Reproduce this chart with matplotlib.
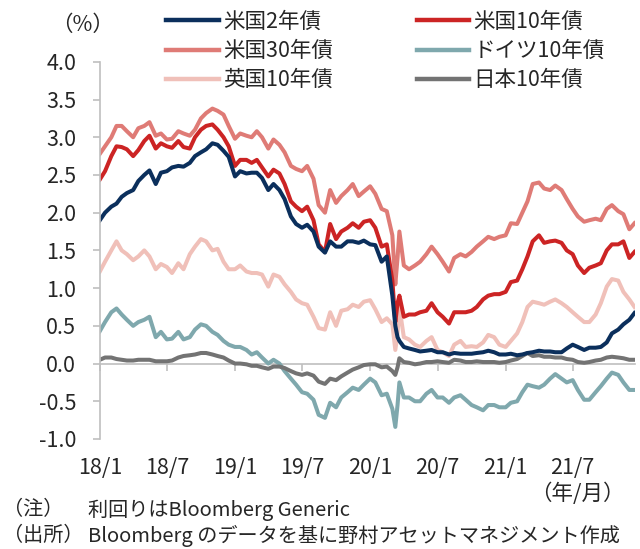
import pandas as pd
import matplotlib
matplotlib.use("Agg")
import matplotlib.pyplot as plt

plt.rcParams['font.family'] = ['Noto Sans CJK JP', 'DejaVu Sans']

# semi-monthly sample dates, plus two extra points around the March 2020 turmoil
dates = pd.to_datetime(sorted(
    list(pd.date_range('2018-01-01', '2021-12-15', freq='SMS').strftime('%Y-%m-%d'))
    + ['2020-03-09', '2020-03-20']))

us2 = [1.90, 2.00, 2.08, 2.12, 2.21, 2.26, 2.30, 2.42, 2.50, 2.56, 2.38, 2.53,
       2.55, 2.60, 2.62, 2.61, 2.66, 2.75, 2.80, 2.84, 2.92, 2.90, 2.82, 2.74,
       2.48, 2.55, 2.52, 2.53, 2.53, 2.46, 2.30, 2.38, 2.30, 2.18, 1.95, 1.85,
       1.80, 1.84, 1.75, 1.55, 1.47, 1.62, 1.55, 1.55, 1.62, 1.62, 1.60, 1.63,
       1.58, 1.57, 1.35, 1.42, 0.90, 0.50, 0.35, 0.30, 0.22, 0.20, 0.18, 0.16, 0.17,
       0.18, 0.15, 0.15, 0.12, 0.14, 0.13, 0.13, 0.13, 0.14, 0.15, 0.17, 0.15, 0.12,
       0.12, 0.13, 0.11, 0.12, 0.14, 0.15, 0.17, 0.16, 0.16, 0.15, 0.15, 0.20,
       0.25, 0.22, 0.18, 0.21, 0.21, 0.22, 0.28, 0.40, 0.45, 0.52, 0.58, 0.67]

us10 = [2.44, 2.55, 2.75, 2.88, 2.87, 2.84, 2.75, 2.83, 2.95, 3.02, 2.85, 2.92,
        2.88, 2.86, 2.95, 2.87, 2.85, 3.00, 3.10, 3.15, 3.17, 3.10, 3.00, 2.88,
        2.62, 2.70, 2.70, 2.66, 2.70, 2.60, 2.48, 2.57, 2.52, 2.38, 2.15, 2.08,
        2.02, 2.08, 1.90, 1.58, 1.48, 1.85, 1.65, 1.75, 1.80, 1.86, 1.80, 1.88,
        1.90, 1.80, 1.55, 1.58, 1.10, 0.55, 0.80, 0.90, 0.62, 0.65, 0.65, 0.68, 0.70,
        0.80, 0.68, 0.62, 0.53, 0.68, 0.68, 0.68, 0.70, 0.75, 0.85, 0.90, 0.92, 0.92,
        0.95, 1.08, 1.10, 1.25, 1.42, 1.62, 1.70, 1.60, 1.62, 1.63, 1.60, 1.50,
        1.45, 1.30, 1.20, 1.27, 1.30, 1.33, 1.50, 1.58, 1.58, 1.62, 1.40, 1.48]

us30 = [2.78, 2.88, 3.00, 3.15, 3.15, 3.08, 3.00, 3.12, 3.15, 3.20, 3.02, 3.05,
        2.97, 2.98, 3.08, 3.05, 3.02, 3.10, 3.25, 3.32, 3.38, 3.35, 3.30, 3.15,
        2.98, 3.05, 3.02, 3.00, 3.08, 3.00, 2.85, 2.97, 2.90, 2.80, 2.62, 2.58,
        2.55, 2.62, 2.45, 2.10, 2.00, 2.30, 2.13, 2.22, 2.30, 2.38, 2.22, 2.28,
        2.35, 2.25, 2.05, 2.02, 1.70, 1.05, 1.40, 1.75, 1.30, 1.25, 1.30, 1.35, 1.45,
        1.55, 1.45, 1.35, 1.22, 1.40, 1.45, 1.42, 1.48, 1.55, 1.62, 1.68, 1.65, 1.68,
        1.70, 1.86, 1.85, 2.00, 2.15, 2.38, 2.40, 2.32, 2.30, 2.36, 2.30, 2.18,
        2.05, 1.95, 1.88, 1.90, 1.92, 1.90, 2.05, 2.10, 2.02, 1.98, 1.78, 1.86]

de10 = [0.43, 0.55, 0.68, 0.73, 0.65, 0.58, 0.50, 0.55, 0.58, 0.62, 0.35, 0.42,
        0.32, 0.33, 0.42, 0.32, 0.35, 0.45, 0.52, 0.50, 0.42, 0.38, 0.30, 0.25,
        0.22, 0.22, 0.18, 0.12, 0.15, 0.08, 0.00, 0.05, 0.00, -0.10, -0.20, -0.28,
        -0.38, -0.40, -0.48, -0.68, -0.72, -0.52, -0.58, -0.45, -0.38, -0.32, -0.35, -0.28,
        -0.20, -0.25, -0.42, -0.40, -0.60, -0.84, -0.55, -0.25, -0.45, -0.45, -0.50, -0.50, -0.40,
        -0.35, -0.45, -0.45, -0.52, -0.45, -0.42, -0.48, -0.55, -0.58, -0.62, -0.55, -0.55, -0.58,
        -0.58, -0.52, -0.50, -0.38, -0.28, -0.30, -0.32, -0.28, -0.20, -0.14, -0.20, -0.25,
        -0.22, -0.35, -0.48, -0.48, -0.38, -0.30, -0.20, -0.12, -0.15, -0.25, -0.35, -0.35]

uk10 = [1.22, 1.35, 1.50, 1.62, 1.50, 1.45, 1.37, 1.42, 1.50, 1.42, 1.25, 1.32,
        1.28, 1.20, 1.33, 1.25, 1.45, 1.55, 1.65, 1.62, 1.50, 1.52, 1.35, 1.25,
        1.25, 1.30, 1.22, 1.20, 1.20, 1.18, 1.02, 1.18, 1.15, 1.05, 0.95, 0.85,
        0.80, 0.78, 0.62, 0.47, 0.45, 0.68, 0.50, 0.70, 0.72, 0.78, 0.75, 0.82,
        0.84, 0.72, 0.55, 0.60, 0.52, 0.18, 0.40, 0.75, 0.35, 0.32, 0.25, 0.22, 0.30,
        0.35, 0.18, 0.15, 0.10, 0.25, 0.30, 0.22, 0.23, 0.22, 0.28, 0.38, 0.35, 0.25,
        0.22, 0.30, 0.40, 0.55, 0.75, 0.82, 0.80, 0.78, 0.82, 0.85, 0.80, 0.75,
        0.68, 0.62, 0.55, 0.55, 0.65, 0.80, 1.02, 1.12, 1.10, 0.95, 0.85, 0.75]

jp10 = [0.05, 0.08, 0.08, 0.06, 0.05, 0.04, 0.04, 0.05, 0.05, 0.05, 0.03, 0.03,
        0.03, 0.04, 0.08, 0.10, 0.11, 0.12, 0.14, 0.14, 0.12, 0.10, 0.08, 0.04,
        0.00, 0.00, -0.01, -0.03, -0.03, -0.05, -0.07, -0.04, -0.04, -0.06, -0.10, -0.13,
        -0.15, -0.13, -0.16, -0.24, -0.27, -0.20, -0.22, -0.17, -0.12, -0.08, -0.05, -0.02,
        -0.01, -0.01, -0.05, -0.04, -0.10, -0.15, -0.05, 0.07, 0.02, 0.01, -0.01, 0.00, 0.02,
        0.02, 0.03, 0.02, 0.01, 0.05, 0.04, 0.02, 0.02, 0.03, 0.02, 0.02, 0.02, 0.01,
        0.02, 0.04, 0.06, 0.10, 0.14, 0.10, 0.11, 0.09, 0.09, 0.08, 0.08, 0.06,
        0.05, 0.02, 0.01, 0.02, 0.04, 0.05, 0.08, 0.09, 0.08, 0.07, 0.05, 0.05]

series = [
    ('米国2年債', us2, '#0b2f5c'),
    ('米国10年債', us10, '#cc2424'),
    ('米国30年債', us30, '#df7b76'),
    ('ドイツ10年債', de10, '#7fa8ad'),
    ('英国10年債', uk10, '#f0c0b9'),
    ('日本10年債', jp10, '#737373'),
]
# draw order: lighter/background lines first
draw_order = [4, 3, 5, 2, 1, 0]
# legend is filled column by column -> reorder so rows read left to right
legend_order = [0, 2, 4, 1, 3, 5]

txt = '#262626'
gray = '#bfbfbf'

fig = plt.figure(figsize=(6.4, 5.49), dpi=100)
ax = fig.add_axes([0.156, 0.2004, 0.836, 0.687])

handles = {}
for i in draw_order:
    name, vals, col = series[i]
    ln, = ax.plot(dates, vals, color=col, lw=2.9, label=name)
    handles[i] = ln

ax.set_ylim(-1.0, 4.0)
yticks = [-1.0, -0.5, 0.0, 0.5, 1.0, 1.5, 2.0, 2.5, 3.0, 3.5, 4.0]
ax.set_yticks(yticks)
ax.set_yticklabels([f'{v:.1f}' for v in yticks])
ax.set_xlim(pd.Timestamp('2018-01-01'), pd.Timestamp('2021-12-16'))

xticks = pd.to_datetime(['2018-01-01', '2018-07-01', '2019-01-01', '2019-07-01',
                         '2020-01-01', '2020-07-01', '2021-01-01', '2021-07-01'])
xlabels = ['18/1', '18/7', '19/1', '19/7', '20/1', '20/7', '21/1', '21/7']
ax.set_xticks(xticks)
ax.set_xticklabels(xlabels)

for s in ['top', 'right']:
    ax.spines[s].set_visible(False)
ax.spines['left'].set_color(gray)
ax.spines['left'].set_linewidth(1.2)
ax.spines['bottom'].set_position(('data', 0))
ax.spines['bottom'].set_color(gray)
ax.spines['bottom'].set_linewidth(1.2)
ax.spines['bottom'].set_zorder(0)
ax.tick_params(axis='y', colors=gray, labelcolor=txt, labelsize=15.5,
               length=5, width=1.2, pad=12)
ax.tick_params(axis='x', colors=gray, labelcolor=txt, labelsize=15.5,
               length=5, width=1.2, pad=62)

fig.text(0.129, 0.955, '（%）', fontsize=15.5, color=txt, ha='center', va='center')
fig.text(0.902, 0.101, '（年/月）', fontsize=15.5, color=txt, ha='center', va='center')
fig.text(0.005, 0.071, '（注）', fontsize=14.5, color=txt, va='center')
fig.text(0.138, 0.071, '利回りはBloomberg Generic', fontsize=14.5, color=txt, va='center')
fig.text(0.005, 0.024, '（出所）', fontsize=14.5, color=txt, va='center')
fig.text(0.138, 0.024, 'Bloomberg のデータを基に野村アセットマネジメント作成',
         fontsize=14.5, color=txt, va='center')

leg = fig.legend([handles[i] for i in legend_order], [series[i][0] for i in legend_order],
                 ncol=2, loc='upper left', bbox_to_anchor=(0.259, 0.98),
                 frameon=False, fontsize=15.5, handlelength=2.45, handletextpad=0.2,
                 columnspacing=3.9, labelspacing=0.33, borderpad=0, borderaxespad=0)
for t in leg.get_texts():
    t.set_color(txt)
for h in leg.legend_handles:
    h.set_linewidth(3.2)

fig.savefig('out.png', dpi=100)
